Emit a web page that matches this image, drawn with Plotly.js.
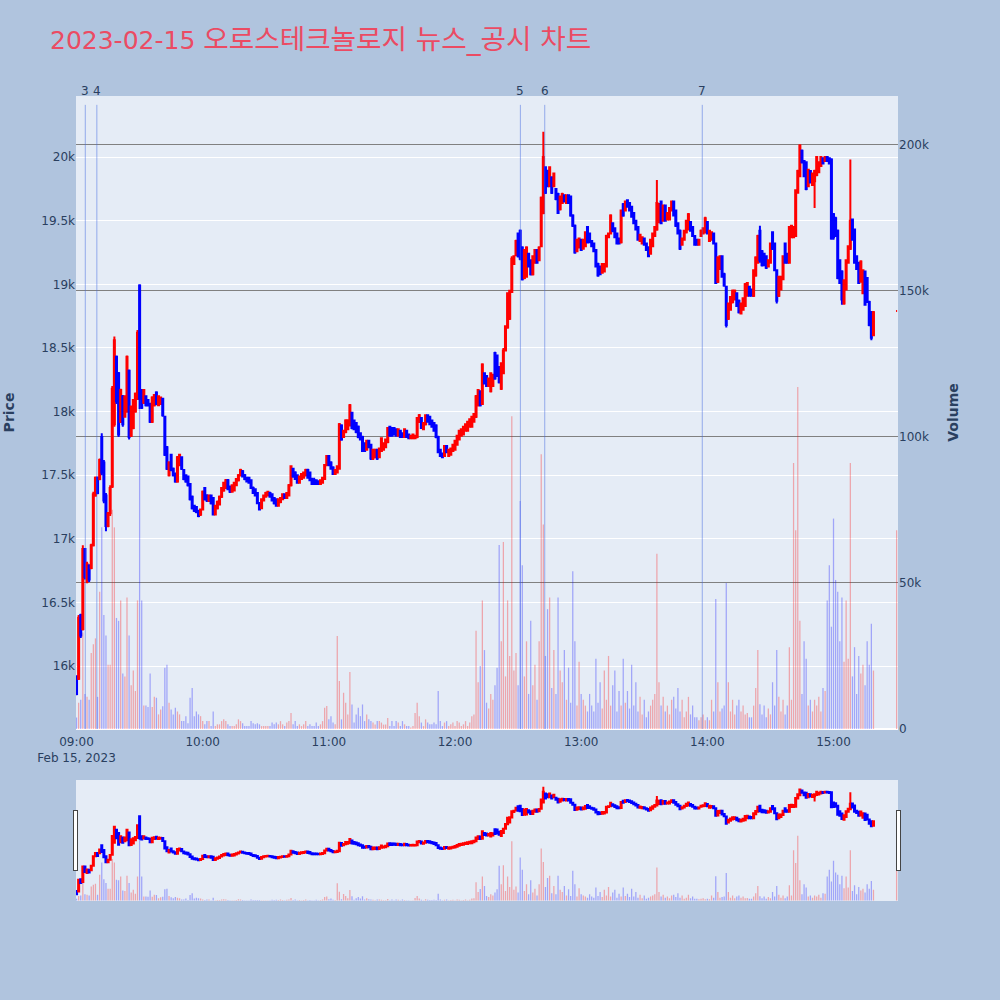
<!DOCTYPE html>
<html>
<head>
<meta charset="utf-8">
<script src="https://cdn.plot.ly/plotly-3.0.1.min.js"></script>
<style>body{margin:0;padding:0;background:#B0C4DE;}#chart{width:1000px;height:1000px;}</style>
</head>
<body>
<div id="chart"></div>
<script>
// minutes after 09:00 for each candle (every minute 0..379, plus closing auction at 390)
const minuteOffsets = [];
for (let m = 0; m <= 379; m++) minuteOffsets.push(m);
minuteOffsets.push(390);

const openP = [
15920,15900,16400,16290,16920,16660,16790,16770,16950,17340,
17480,17470,17800,17600,17340,17100,17200,17410,17900,18430,
18300,17920,18120,17960,18000,18320,17810,17870,18000,18100,
18990,18170,18070,18120,18090,18060,17920,18050,18150,18050,
18060,18100,17960,17720,17500,17660,17550,17510,17450,17580,
17640,17540,17500,17490,17430,17330,17260,17250,17220,17190,
17230,17400,17340,17300,17340,17320,17190,17240,17270,17330,
17380,17400,17460,17410,17370,17380,17420,17460,17500,17530,
17500,17480,17480,17460,17400,17390,17360,17280,17240,17300,
17330,17340,17360,17350,17320,17310,17260,17290,17310,17350,
17320,17340,17420,17550,17520,17500,17440,17470,17480,17500,
17540,17520,17470,17460,17460,17450,17430,17440,17470,17580,
17650,17600,17560,17510,17520,17550,17890,17800,17840,17860,
17890,17990,17930,17910,17880,17830,17800,17750,17700,17770,
17740,17630,17640,17700,17640,17690,17700,17720,17760,17880,
17870,17870,17860,17810,17850,17830,17800,17850,17820,17790,
17790,17790,17800,17920,17950,17860,17900,17970,17960,17930,
17910,17890,17800,17700,17670,17650,17730,17650,17660,17690,
17700,17740,17780,17810,17820,17850,17850,17880,17880,17920,
17960,18050,18160,18060,18300,18280,18200,18160,18200,18460,
18440,18350,18180,18300,18480,18660,18730,18940,19160,19230,
19400,19420,19290,19050,19060,19240,19190,19080,19170,19270,
19190,19300,19560,19920,19890,19770,19840,19770,19750,19710,
19590,19640,19700,19640,19700,19690,19540,19460,19260,19290,
19350,19280,19300,19450,19400,19340,19320,19270,19160,19140,
19090,19100,19140,19370,19400,19480,19440,19400,19360,19330,
19630,19580,19660,19640,19610,19560,19500,19450,19340,19320,
19360,19320,19290,19240,19300,19380,19430,19490,19650,19500,
19620,19510,19510,19580,19650,19580,19480,19420,19310,19350,
19410,19430,19490,19450,19380,19350,19310,19380,19400,19410,
19490,19340,19350,19400,19320,19020,19120,19220,19080,18980,
18730,18800,18860,18880,18930,18870,18770,18800,18830,18910,
18980,18960,18910,19070,19170,19420,19260,19240,19220,19140,
19170,19410,19320,19110,18910,18960,19040,19320,19240,19170,
19370,19370,19380,19720,19850,20050,19970,19960,19770,19890,
19780,19810,19860,19880,19930,19990,19970,20000,19990,19980,
19550,19520,19420,19190,19100,18850,18960,19170,19280,19510,
19430,19220,19170,19020,18930,19100,19050,18860,18780,18600,
18790];

const highP = [
15920,16400,16410,16950,16920,16820,16800,16960,17370,17490,
17490,17630,17830,17620,17360,17210,17420,18200,18590,18440,
18310,18180,18130,18120,18440,18330,18040,18090,18150,18640,
19000,18170,18170,18120,18090,18070,18120,18130,18160,18120,
18110,18100,17960,17730,17610,17660,17560,17520,17650,17660,
17640,17540,17500,17490,17430,17340,17260,17250,17220,17230,
17380,17400,17350,17340,17340,17320,17260,17300,17340,17400,
17440,17470,17470,17410,17420,17440,17470,17510,17550,17540,
17510,17480,17480,17460,17410,17390,17360,17290,17310,17340,
17370,17370,17370,17350,17320,17310,17310,17320,17350,17350,
17360,17430,17570,17550,17530,17500,17490,17510,17520,17550,
17550,17520,17480,17480,17460,17460,17460,17480,17580,17650,
17650,17610,17570,17540,17570,17910,17900,17850,17940,17940,
18060,17990,17930,17910,17890,17830,17810,17750,17770,17770,
17740,17700,17700,17700,17710,17790,17750,17780,17870,17880,
17870,17870,17860,17860,17850,17830,17860,17850,17820,17810,
17820,17810,17950,17980,17950,17910,17970,17970,17960,17930,
17910,17900,17810,17700,17670,17730,17730,17700,17710,17740,
17770,17810,17850,17860,17880,17900,17920,17940,17960,17980,
18130,18170,18160,18380,18300,18280,18260,18300,18290,18470,
18440,18350,18380,18500,18670,18930,18950,19220,19220,19350,
19400,19430,19300,19270,19300,19240,19190,19220,19270,19270,
19300,19690,20200,19920,19900,19920,19850,19870,19750,19720,
19690,19720,19700,19700,19700,19690,19550,19470,19350,19360,
19350,19350,19410,19450,19400,19340,19320,19270,19170,19140,
19160,19160,19390,19400,19550,19480,19440,19400,19360,19580,
19640,19650,19660,19640,19610,19560,19500,19450,19390,19370,
19360,19320,19300,19350,19400,19450,19820,19640,19650,19620,
19620,19560,19600,19650,19650,19580,19480,19430,19360,19420,
19500,19560,19490,19450,19380,19350,19350,19430,19440,19530,
19490,19420,19410,19400,19320,19220,19220,19220,19090,18980,
18850,18900,18960,18960,18930,18880,18850,18890,19010,19010,
18980,18960,19110,19220,19390,19460,19270,19240,19220,19190,
19320,19410,19320,19110,19060,19060,19220,19320,19240,19450,
19460,19450,19740,19900,20100,20060,19970,19960,19900,19890,
19870,19900,20000,19960,20000,19990,20000,20000,19990,19990,
19560,19530,19430,19190,19110,19040,19190,19300,19980,19510,
19430,19220,19170,19190,19110,19100,19050,18870,18790,18790,
18790];

const lowP = [
15770,15890,16220,16280,16680,16650,16660,16760,16940,17330,
17350,17460,17500,17280,17060,17090,17180,17400,17880,18060,
17800,17910,17880,17960,17990,17780,17800,17860,17990,18090,
18020,18020,18060,18040,18040,17910,17910,18040,18050,18050,
18060,17960,17650,17540,17490,17530,17490,17440,17440,17570,
17540,17460,17440,17410,17300,17230,17210,17200,17170,17180,
17230,17300,17290,17290,17270,17190,17190,17230,17270,17320,
17370,17400,17390,17360,17370,17380,17420,17450,17490,17490,
17460,17450,17440,17400,17360,17340,17280,17230,17240,17300,
17330,17340,17330,17300,17270,17260,17260,17280,17310,17320,
17320,17340,17410,17480,17470,17440,17440,17470,17480,17490,
17480,17460,17430,17430,17430,17430,17430,17440,17470,17570,
17570,17550,17510,17510,17520,17550,17770,17800,17830,17860,
17890,17860,17860,17830,17790,17780,17690,17690,17700,17720,
17620,17620,17640,17620,17640,17690,17700,17720,17750,17810,
17810,17820,17810,17810,17800,17800,17800,17800,17790,17790,
17790,17790,17790,17910,17870,17860,17890,17920,17900,17880,
17850,17790,17680,17650,17640,17650,17680,17650,17660,17690,
17700,17740,17780,17810,17820,17850,17850,17880,17880,17920,
17950,18040,18040,18060,18220,18200,18200,18150,18200,18250,
18280,18220,18170,18300,18480,18650,18720,18940,19160,19220,
19210,19190,19030,19040,19060,19140,19070,19070,19170,19170,
19190,19300,19550,19710,19770,19770,19710,19770,19660,19560,
19580,19640,19650,19640,19640,19530,19450,19240,19260,19290,
19270,19280,19300,19320,19330,19300,19260,19140,19060,19080,
19090,19100,19140,19370,19400,19410,19370,19320,19320,19320,
19530,19580,19610,19580,19530,19480,19430,19350,19340,19320,
19310,19270,19220,19240,19300,19380,19420,19480,19480,19500,
19500,19510,19510,19580,19540,19450,19400,19270,19310,19350,
19400,19430,19420,19380,19310,19310,19310,19380,19400,19400,
19400,19340,19350,19320,19010,19010,19120,19060,18980,18660,
18720,18800,18850,18880,18830,18770,18770,18800,18830,18910,
18910,18910,18900,19060,19170,19170,19140,19150,19120,19140,
19170,19270,19110,18850,18900,18960,19040,19170,19170,19170,
19370,19370,19380,19720,19850,19950,19850,19740,19770,19800,
19780,19600,19850,19880,19930,19950,19970,19970,19950,19350,
19350,19380,19040,19010,18840,18840,18960,19170,19270,19350,
19170,19120,19010,19020,18930,18840,18860,18670,18560,18600,
18790];

const closeP = [
15780,16380,16240,16920,16700,16800,16680,16950,17350,17480,
17360,17620,17520,17300,17100,17200,17400,18180,18560,18080,
17820,18170,17900,18120,18430,17800,18040,18090,18140,18620,
18100,18030,18170,18050,18050,17920,18110,18130,18060,18120,
18110,17970,17660,17550,17600,17540,17500,17450,17640,17660,
17550,17470,17450,17420,17310,17240,17220,17210,17180,17230,
17370,17310,17300,17340,17280,17190,17260,17290,17330,17400,
17440,17460,17390,17370,17420,17440,17470,17500,17540,17490,
17470,17450,17440,17400,17360,17340,17280,17230,17310,17340,
17360,17370,17330,17300,17280,17260,17310,17320,17350,17320,
17360,17420,17570,17490,17470,17440,17490,17510,17520,17540,
17480,17460,17430,17430,17430,17430,17460,17480,17580,17650,
17580,17550,17510,17540,17570,17900,17780,17850,17930,17930,
18050,17870,17860,17840,17800,17780,17690,17690,17770,17720,
17630,17700,17700,17630,17710,17790,17750,17780,17870,17810,
17810,17820,17810,17860,17800,17800,17860,17800,17790,17810,
17820,17810,17950,17970,17870,17910,17970,17920,17900,17880,
17850,17800,17680,17650,17640,17730,17680,17700,17710,17740,
17770,17810,17850,17860,17880,17900,17920,17940,17960,17980,
18120,18170,18050,18370,18220,18200,18260,18300,18290,18260,
18280,18230,18380,18480,18670,18930,18950,19200,19220,19340,
19220,19200,19040,19270,19290,19140,19080,19220,19270,19170,
19290,19680,20000,19720,19770,19920,19720,19870,19670,19560,
19690,19710,19650,19700,19640,19540,19460,19250,19350,19360,
19270,19350,19410,19330,19330,19300,19260,19140,19070,19080,
19160,19160,19380,19400,19540,19420,19370,19320,19320,19580,
19540,19650,19610,19580,19530,19480,19430,19350,19390,19370,
19310,19270,19220,19350,19400,19450,19640,19630,19480,19620,
19500,19560,19600,19650,19540,19460,19400,19280,19360,19420,
19500,19550,19420,19380,19310,19310,19350,19420,19440,19520,
19400,19420,19410,19320,19010,19210,19220,19060,18990,18680,
18850,18900,18950,18950,18830,18780,18850,18890,19000,19010,
18910,18910,19110,19210,19380,19190,19150,19150,19130,19190,
19320,19280,19110,18870,19060,19060,19220,19170,19170,19450,
19460,19450,19740,19890,20090,19960,19850,19750,19900,19800,
19870,19890,20000,19960,20000,19950,20000,19970,19950,19360,
19370,19380,19050,19010,18880,19030,19190,19300,19500,19350,
19170,19120,19010,19180,19110,18840,18860,18680,18580,18780,
18790];

const volumes = [
3900,9000,10000,33000,12000,11000,10000,26000,29000,31000,
11000,47000,69000,39000,32000,22000,22000,75000,69000,38000,
37000,44000,19000,18000,45000,32000,15000,20000,13000,44000,
148000,44000,8000,8000,7500,19000,7500,11000,10700,5000,
6700,7800,21000,22000,9000,6700,5000,7300,6000,5000,
2700,2700,4400,2000,10700,14000,4400,6000,5000,4400,
2700,1600,2700,2700,1000,6000,1000,1600,1600,2700,
3300,2700,1600,1000,1000,1000,1600,3300,2700,2000,
1000,1000,1000,2700,2000,1600,2000,1600,1000,1000,
1000,1000,1000,2200,1600,2200,1600,2700,1600,1000,
2200,2700,5500,1600,2700,1000,1600,1000,1600,2700,
1000,1600,1000,1000,2200,1000,1600,2700,7300,7900,
3300,4400,2200,1600,31800,16400,3300,12400,9000,5000,
19500,8400,2200,5000,7300,4400,8400,2700,5000,3300,
2700,2200,1500,2700,2700,2200,1500,1500,3800,1000,
2700,1000,2700,2200,1000,2700,1600,1000,1000,500,
1000,5500,9000,4400,2200,1000,3300,2200,1600,1600,
2200,1600,13000,2700,1000,2200,2700,1000,1600,2200,
1000,2700,2200,1000,1600,2700,1000,2200,4400,5000,
33600,16000,21600,44000,27000,9000,7000,12000,10000,15000,
21000,63000,30000,64000,18000,44000,25000,107000,20000,26000,
15000,78000,56000,18000,30000,12000,37000,15000,22000,10000,
30000,94000,70000,25000,41000,45000,14000,27000,12000,45000,
20000,16000,27000,10000,21000,9000,54000,30000,8000,23000,
12000,10000,8000,6000,12000,8000,6000,24000,9000,16000,
7000,20000,10000,25000,8000,15000,20000,6000,13000,8000,
24000,9000,13000,7000,22000,8000,16000,6000,11000,5000,
10000,4000,6000,8000,10000,12000,60000,16000,8000,11000,
6000,8000,5000,10000,11000,7000,14000,6000,10000,4000,
6000,11000,5000,8000,4000,4000,3000,4000,5000,3000,
4000,3000,10000,6000,44500,16000,6000,7000,8000,50000,
16000,6000,10000,5000,8000,10000,6000,8000,5000,5500,
4000,4000,8000,14000,27000,8500,5000,8000,4000,7000,
5000,16000,8000,27000,11000,6000,10000,5000,8000,28000,
10000,91000,68000,117000,37000,12000,30000,24000,8000,10000,
6000,10000,8000,11000,6000,14000,13000,44000,56000,35000,
72000,51000,47000,30000,45000,23000,44000,24000,91000,18000,
28000,12000,25000,19000,22000,15000,30000,22000,36000,20000,
68000];

// news / disclosure markers
const newsLabels = ['3', '4', '5', '6', '7'];
const newsTimes = ['2023-02-15 09:04:10', '2023-02-15 09:09:40', '2023-02-15 12:31:05', '2023-02-15 12:42:40', '2023-02-15 13:57:35'];

const titleDate = '2023-02-15';
const titleName = '오로스테크놀로지 뉴스_공시 차트';

function pad(n) { return (n < 10 ? '0' : '') + n; }
const times = minuteOffsets.map(m => {
  const h = 9 + Math.floor(m / 60), mm = m % 60;
  return '2023-02-15 ' + pad(h) + ':' + pad(mm) + ':00';
});

// volume colour follows candle direction
const volColors = closeP.map((c, i) => {
  const o = openP[i];
  let up;
  if (c > o) up = true;
  else if (c < o) up = false;
  else up = i > 0 ? c >= closeP[i - 1] : true;
  return up ? 'rgba(255,0,0,0.3)' : 'rgba(0,0,255,0.3)';
});

const xRange = ['2023-02-15 08:59:45', '2023-02-15 15:30:40'];
const baseFont = '"DejaVu Sans", Verdana, sans-serif';

const volumeTrace = {
  type: 'bar', x: times, y: volumes, yaxis: 'y', xaxis: 'x',
  marker: { color: volColors, line: { width: 0 } },
  width: 36000, name: 'Volume', showlegend: false, hoverinfo: 'x+y'
};
const candleTrace = {
  type: 'candlestick', x: times, open: openP, high: highP, low: lowP, close: closeP,
  xaxis: 'x', yaxis: 'y2', name: 'Price', showlegend: false,
  increasing: { line: { color: 'red', width: 2 }, fillcolor: 'red' },
  decreasing: { line: { color: 'blue', width: 2 }, fillcolor: 'blue' }
};

const shapes = newsTimes.map(t => ({
  type: 'line', xref: 'x', yref: 'paper', x0: t, x1: t, y0: 0, y1: 0.986,
  line: { color: 'rgba(65,105,225,0.5)', width: 1 }
}));
const annotations = newsTimes.map((t, i) => ({
  x: t, xref: 'x', y: 1, yref: 'paper', yanchor: 'bottom', yshift: -4, text: newsLabels[i],
  showarrow: false, font: { family: baseFont, size: 12, color: '#2a3f5f' }
}));

const layout = {
  width: 1000, height: 1000,
  paper_bgcolor: '#B0C4DE', plot_bgcolor: '#E5ECF6',
  font: { family: baseFont, color: '#2a3f5f', size: 12 },
  title: { text: titleDate + ' <span style="font-size:27.7px">' + titleName + '</span>',
           x: 0.05, xanchor: 'left', y: 0.96, yanchor: 'middle',
           font: { family: '"DejaVu Sans", "Noto Sans CJK KR", sans-serif', size: 25, color: '#EB4B63' } },
  margin: { l: 76, r: 102, t: 96, b: 100 },
  showlegend: false,
  xaxis: {
    type: 'date', range: xRange, showgrid: false, zeroline: false, ticklabelstandoff: 4,
    rangeslider: { visible: true, thickness: 0.15, bgcolor: '#E5ECF6', borderwidth: 0, range: xRange,
                   yaxis: { rangemode: 'match' }, yaxis2: { rangemode: 'match' } }
  },
  yaxis: {
    side: 'right', range: [0, 216600], showgrid: true, gridcolor: 'gray', gridwidth: 1,
    zeroline: true, zerolinecolor: 'white', zerolinewidth: 2,
    title: { text: '<b>Volume</b>', standoff: 20, font: { family: baseFont, size: 14, color: '#2a3f5f' } }
  },
  yaxis2: {
    side: 'left', overlaying: 'y', range: [15505, 20480], showgrid: true, gridcolor: 'white', gridwidth: 1,
    zeroline: false,
    title: { text: '<b>Price</b>', standoff: 23, font: { family: baseFont, size: 14, color: '#2a3f5f' } }
  },
  shapes: shapes,
  annotations: annotations
};

Plotly.newPlot('chart', [volumeTrace, candleTrace], layout, { displayModeBar: false });
</script>
</body>
</html>
